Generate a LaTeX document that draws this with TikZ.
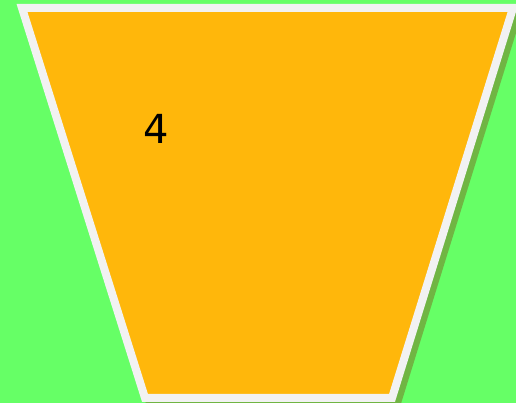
\documentclass[tikz,border=0pt]{standalone}
\usepackage{fontspec}
\setmainfont{DejaVu Sans}
\usetikzlibrary{calc}
\definecolor{bggreen}{HTML}{66FF66}
\definecolor{cuporange}{HTML}{FFB70B}
\definecolor{rimwhite}{HTML}{F2F2F2}
\definecolor{shadowgreen}{HTML}{70B543}
\begin{document}
\begin{tikzpicture}[x=1pt,y=1pt,
  cup/.style={line width=8pt, line join=miter},
  label/.style={inner sep=0pt, font=\fontsize{40}{46}\selectfont}]
  % background
  \fill[bggreen] (0,0) rectangle (516,403);
  \useasboundingbox (0,0) rectangle (516,403);
  % corners of the cup
  \coordinate (tl) at (22,395);
  \coordinate (tr) at (513,395);
  \coordinate (br) at (392,5);
  \coordinate (bl) at (145,5);
  % shadow
  \filldraw[cup, draw=shadowgreen, fill=shadowgreen]
    ($(tl)+(5,-5)$) -- ($(tr)+(5,-5)$) -- ($(br)+(5,-5)$) -- ($(bl)+(5,-5)$) -- cycle;
  % cup
  \filldraw[cup, draw=rimwhite, fill=cuporange] (tl) -- (tr) -- (br) -- (bl) -- cycle;
  \node[label] (num) at (156,274) {4};
\end{tikzpicture}
\end{document}
